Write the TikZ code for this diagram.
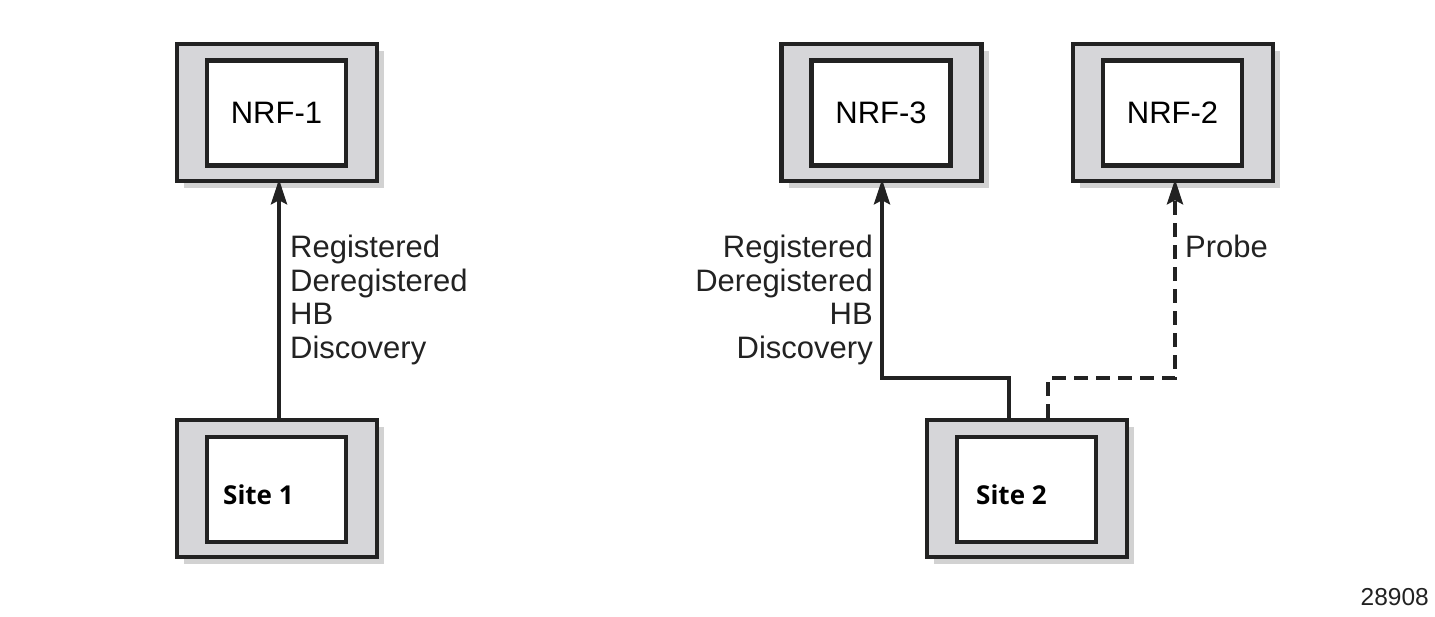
\documentclass[tikz,border=0pt]{standalone}
\usepackage{fontspec}
\setmainfont{Liberation Sans}
\newfontfamily\sitefont{Open Sans}
\usetikzlibrary{shadows,arrows.meta}
\definecolor{boxgray}{HTML}{D6D6D9}
\definecolor{shadowgray}{HTML}{D2D2D2}
\definecolor{ink}{HTML}{222222}
\tikzset{
  outerbox/.style={draw=ink, line width=4.5pt, fill=boxgray, minimum width=200pt, minimum height=137pt, inner sep=0pt,
    drop shadow={shadow xshift=7pt, shadow yshift=-7pt, fill=shadowgray, opacity=1}},
  innerbox/.style={draw=ink, line width=4.5pt, fill=white, minimum width=139pt, minimum height=105pt, inner sep=0pt,
    font=\fontsize{31}{34}\selectfont},
  sitelabel/.style={font=\sitefont\bfseries\fontsize{26}{29}\selectfont, inner sep=0pt, anchor=west},
  msg/.style={font=\fontsize{31}{33.5}\selectfont, inner sep=0pt, text=ink},
  arr/.style={draw=ink, line width=4pt, -{Stealth[length=25pt,width=16pt,inset=4pt]}},
  dasharr/.style={arr, dash pattern=on 14pt off 8pt},
}
\begin{document}
\begin{tikzpicture}[x=1pt,y=-1pt]
\useasboundingbox (0,0) rectangle (1435,616);
% boxes
\node[outerbox] (n1o) at (277,112.5) {};
\node[innerbox] (n1) at (276.5,113) {NRF-1};
\node[outerbox] (n3o) at (881.5,112.5) {};
\node[innerbox] (n3) at (881,113) {NRF-3};
\node[outerbox] (n2o) at (1173,112.5) {};
\node[innerbox] (n2) at (1172.5,113) {NRF-2};
\node[outerbox] (s1o) at (277,488.5) {};
\node[innerbox] (s1) at (276.5,489.5) {};
\node[sitelabel] (s1t) at (223,495) {Site 1};
\node[outerbox] (s2o) at (1027,488.5) {};
\node[innerbox] (s2) at (1026.5,489.5) {};
\node[sitelabel] (s2t) at (976,495) {Site 2};
% connectors
\draw[arr] ([xshift=2pt]s1o.north) -- ([xshift=2pt,yshift=4pt]n1o.south);
\draw[arr] ([xshift=-18pt]s2o.north) -- ++(0,-40) -| ([xshift=0.5pt,yshift=4pt]n3o.south);
\draw[dasharr] ([xshift=21pt]s2o.north) -- ++(0,-40) -| ([xshift=2pt,yshift=4pt]n2o.south);
% labels
\node[msg, anchor=north west, align=left] (l1) at (290,235) {Registered\\Deregistered\\HB\\Discovery};
\node[msg, anchor=north east, align=right] (l3) at (873,235) {Registered\\Deregistered\\HB\\Discovery};
\node[msg, anchor=base west] (l2) at (1185,257) {Probe};
\node[font=\fontsize{24.5}{27}\selectfont, inner sep=0pt, anchor=east, text=ink] (id) at (1429,597) {28908};
\end{tikzpicture}
\end{document}
